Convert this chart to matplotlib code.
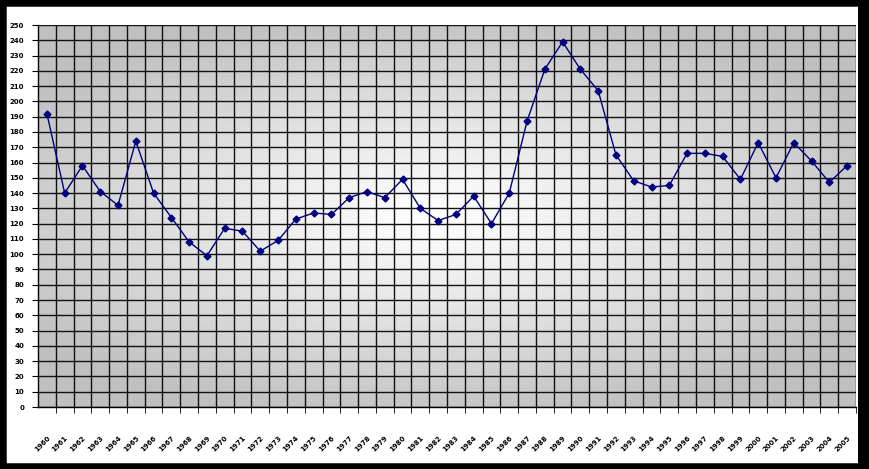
import numpy as np
import matplotlib
matplotlib.use("Agg")
import matplotlib.pyplot as plt
from matplotlib.patches import Rectangle

# data
years = [str(y) for y in range(1960, 2006)]
values = [192, 140, 158, 141, 132, 174, 140, 124, 108, 99,
          117, 115, 102, 109, 123, 127, 126, 137, 141, 137,
          149, 130, 122, 126, 138, 120, 140, 187, 221, 239,
          221, 207, 165, 148, 144, 145, 166, 166, 164, 149,
          173, 150, 173, 161, 147, 158]

fig = plt.figure(figsize=(8.7, 4.69), dpi=100)
fig.patch.set_facecolor("white")

# black frame round the whole picture
fig.patches.append(Rectangle((0, 0), 1, 1, transform=fig.transFigure,
                             fill=False, edgecolor="black", linewidth=9))
fig.patches.append(Rectangle((858 / 870, 0), 12 / 870, 1, transform=fig.transFigure,
                             facecolor="black", edgecolor="none"))

ax = fig.add_axes([38 / 870, 62 / 469, 818 / 870, 382 / 469])

# radial grey gradient behind the plot
gx, gy = np.meshgrid(np.linspace(-1, 1, 400), np.linspace(-1, 1, 200))
r = np.sqrt((gx + 0.03) ** 2 + (gy / 0.9) ** 2)
shade = np.clip(1.0 - 0.2 * r ** 1.1, 0.75, 1.0)
ax.imshow(shade, cmap="gray", vmin=0, vmax=1, extent=[0, 1, 0, 1],
          transform=ax.transAxes, aspect="auto", zorder=0)

x = np.arange(len(years))
ax.plot(x, values, color="#000080", linewidth=1, marker="D", markersize=3.5, zorder=3)

ax.set_xlim(-0.5, len(years) - 0.5)
ax.set_ylim(0, 250)
ax.set_yticks(range(0, 251, 10))
ax.set_yticklabels([str(v) for v in range(0, 251, 10)], fontsize=5, fontweight="bold")
ax.set_xticks(x)
ax.set_xticklabels(years, rotation=45, fontsize=5, fontweight="bold",
                   ha="right", va="top", rotation_mode="anchor")
ax.set_xticks(x + 0.5, minor=True)
ax.tick_params(axis="x", which="major", length=0, pad=20)
ax.tick_params(axis="x", which="minor", length=4, direction="out")
ax.tick_params(axis="y", length=4, direction="out", pad=6)

ax.grid(True, axis="y", which="major", color="#111111", linewidth=1.0, zorder=1)
ax.grid(True, axis="x", which="minor", color="#111111", linewidth=1.0, zorder=1)
for s in ["top", "right"]:
    ax.spines[s].set_visible(False)
ax.spines["left"].set_linewidth(1.0)
ax.spines["bottom"].set_linewidth(1.0)
ax.set_axisbelow(True)

fig.savefig("out.png", dpi=100)
